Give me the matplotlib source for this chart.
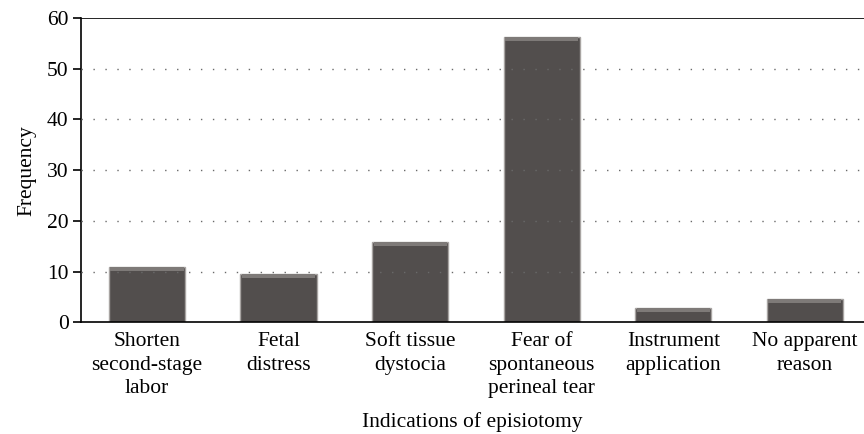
import matplotlib
matplotlib.use("Agg")
import matplotlib.pyplot as plt

categories = ["Shorten\nsecond-stage\nlabor", "Fetal\ndistress", "Soft tissue\ndystocia",
              "Fear of\nspontaneous\nperineal tear", "Instrument\napplication", "No apparent\nreason"]
frequency = [11.0, 9.6, 15.9, 56.3, 2.9, 4.6]
y_ticks = [0, 10, 20, 30, 40, 50, 60]

plt.rcParams['font.family'] = ['Liberation Serif', 'DejaVu Serif']

fig = plt.figure(figsize=(8.64, 4.34), dpi=100)
ax = fig.add_axes([0.094, 0.257, 0.906, 0.7015])

x = list(range(len(categories)))
ax.bar(x, frequency, width=0.58, color="#524e4d", edgecolor="#a8a4a2", linewidth=1.0, zorder=2)
# lighter strip on top of each bar for the bevel look
ax.bar(x, [0.8] * len(x), bottom=[v - 0.8 for v in frequency], width=0.555,
       color="#7e7a78", linewidth=0, zorder=3)

ax.set_xlim(-0.5, 5.45)
ax.set_ylim(0, 60)
ax.set_yticks(y_ticks)
ax.set_xticks(x)
ax.set_xticklabels(categories, fontsize=15.5, linespacing=1.33)
ax.tick_params(axis='x', length=0, pad=7)
ax.tick_params(axis='y', length=6, width=1.2, labelsize=15.5, pad=3)

for yv in y_ticks[1:-1]:
    ax.axhline(yv, color="#6a6a6a", linestyle=(0, (1, 7.6)), linewidth=1.0, zorder=4)
ax.axhline(60, color="black", linewidth=1.2, zorder=4)

ax.spines['right'].set_visible(False)
ax.spines['top'].set_visible(False)
ax.spines['left'].set_linewidth(1.2)
ax.spines['bottom'].set_linewidth(1.2)

ax.set_ylabel("Frequency", fontsize=15.5, labelpad=8)
ax.set_xlabel("Indications of episiotomy", fontsize=15.5, labelpad=10)

fig.savefig("out.png", dpi=100)
